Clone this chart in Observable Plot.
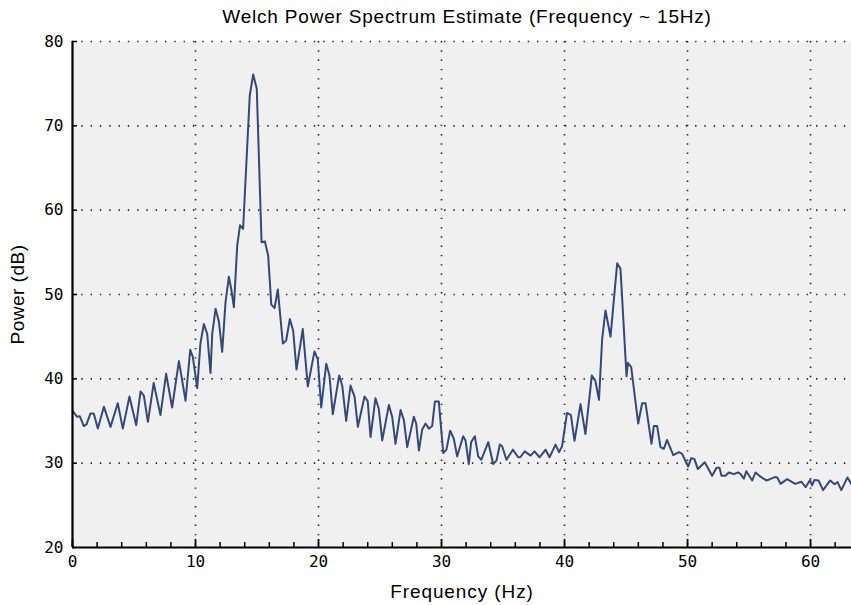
<!DOCTYPE html>
<html><head><meta charset="utf-8">
<script src="https://cdn.jsdelivr.net/npm/d3@7"></script>
<script src="https://cdn.jsdelivr.net/npm/@observablehq/plot@0.6"></script>
<style>
body{margin:0;background:#fff;width:851px;height:605px;overflow:hidden;}
#title{height:32px;width:851px;position:relative;font-family:"Liberation Sans",Arial,sans-serif;font-size:19px;color:#000;}
#title span{position:absolute;left:467px;top:6px;transform:translateX(-50%);white-space:nowrap;letter-spacing:0.8px;}
svg g[aria-label="x-axis label"] text{font-family:"Liberation Sans",Arial,sans-serif;font-size:19px;letter-spacing:0.9px;}
svg g[aria-label="y-axis label"] text{font-family:"Liberation Sans",Arial,sans-serif;font-size:19px;letter-spacing:0.5px;}
</style></head><body>
<div id="title"><span>Welch Power Spectrum Estimate (Frequency ~ 15Hz)</span></div>
<div id="chart"></div>
<script>
const freq = [0.0,0.16,0.38,0.6,0.92,1.14,1.46,1.73,2.06,2.55,3.09,3.68,4.09,4.63,5.18,5.53,5.8,6.13,6.6,7.15,7.61,8.1,8.65,9.19,9.57,9.78,10.14,10.4,10.68,10.95,11.22,11.36,11.63,11.9,12.17,12.44,12.71,12.9,13.12,13.39,13.62,13.87,14.41,14.69,14.98,15.37,15.64,15.91,16.16,16.43,16.69,17.1,17.37,17.67,17.94,18.21,18.72,19.13,19.67,19.94,20.22,20.63,20.89,21.16,21.68,21.93,22.25,22.6,22.93,23.2,23.74,24.0,24.23,24.63,24.9,25.18,25.72,25.99,26.26,26.67,26.94,27.21,27.75,27.94,28.16,28.43,28.7,28.97,29.24,29.46,29.78,30.14,30.4,30.7,31.0,31.27,31.76,31.95,32.22,32.41,32.71,32.98,33.23,33.8,34.2,34.47,34.74,34.93,35.28,35.8,36.23,36.4,36.77,37.24,37.56,37.97,38.46,38.78,39.27,39.55,39.8,40.2,40.52,40.81,41.3,41.7,42.22,42.5,42.8,43.06,43.33,43.74,44.28,44.55,45.04,45.15,45.42,45.99,46.31,46.59,47.07,47.26,47.53,47.8,48.07,48.33,48.84,49.3,49.56,50.05,50.3,50.55,50.84,51.4,52.0,52.36,52.6,52.76,53.08,53.36,53.77,54.1,54.32,54.58,54.78,55.26,55.53,55.94,56.4,56.7,57.1,57.3,57.56,58.1,58.75,59.25,59.6,59.96,60.13,60.3,60.65,61.02,61.6,61.95,62.2,62.5,63.0,63.33];
const power = [36.25,35.9,35.5,35.55,34.4,34.6,35.9,35.9,34.1,36.7,34.3,37.1,34.1,37.9,34.5,38.5,38.0,34.9,39.5,35.7,40.6,36.6,42.1,37.4,43.45,42.6,38.9,44.2,46.5,45.35,40.7,45.35,48.3,46.8,43.2,49.1,52.1,50.7,48.5,55.8,58.2,57.8,73.6,76.1,74.4,56.2,56.3,54.6,48.8,48.4,50.6,44.2,44.55,47.1,45.7,41.1,45.9,39.1,43.25,42.3,36.6,41.8,40.4,35.8,40.4,39.2,35.0,39.2,37.9,34.3,37.9,37.35,33.1,37.7,36.45,32.7,36.9,35.5,32.3,36.3,35.1,31.9,35.5,34.7,31.5,34.0,34.7,34.1,34.4,37.3,37.3,31.2,31.6,33.85,32.9,30.8,33.2,32.7,29.9,32.5,33.2,30.8,30.4,32.5,29.9,30.3,32.2,32.0,30.4,31.6,30.7,30.7,31.4,30.9,31.4,30.7,31.6,30.7,32.2,31.3,32.0,35.95,35.7,32.65,37.0,33.45,40.4,39.8,37.5,44.75,48.1,45.0,53.7,53.05,40.3,41.9,41.4,34.7,37.1,37.1,32.3,34.4,34.4,31.9,31.7,32.75,30.95,31.3,31.1,29.6,30.6,30.5,29.3,30.1,28.5,29.45,29.45,28.5,28.5,28.9,28.7,28.9,28.7,28.15,29.05,27.95,28.9,28.4,27.95,28.1,28.35,28.3,27.55,28.1,27.55,27.8,27.15,28.0,27.35,28.0,27.95,26.8,27.95,27.5,27.75,26.8,28.3,27.5];
const xMajorTicks = [0,10,20,30,40,50,60];
const xMinorTicks = [2,4,6,8,12,14,16,18,22,24,26,28,32,34,36,38,42,44,46,48,52,54,56,58,62];
const yTicks = [20,30,40,50,60,70,80];
const xDomain = [0, 63.33];
const yDomain = [20, 80];
const xLabel = "Frequency (Hz)";
const yLabel = "Power (dB)";

const data = freq.map((f, i) => ({f, p: power[i]}));
const W = 851, H = 573, mT = 9, mL = 72, mR = 0, mB = 58;
const innerW = W - mL - mR, innerH = H - mT - mB;
const dotted = {stroke: "#000", strokeOpacity: 0.85, strokeWidth: 1.6, strokeDasharray: "1.4,7.9"};

const chart = Plot.plot({
  width: W, height: H, marginTop: mT, marginLeft: mL, marginRight: mR, marginBottom: mB,
  x: {domain: xDomain},
  y: {domain: yDomain},
  style: {background: "white", fontFamily: "'DejaVu Sans Mono', monospace", fontSize: "16px", color: "#000", overflow: "visible"},
  marks: [
    Plot.frame({fill: "#f0f0f0", stroke: "none"}),
    Plot.gridX(xMajorTicks.filter(d => d > xDomain[0]), dotted),
    Plot.gridY(yTicks.filter(d => d > yDomain[0]), dotted),
    Plot.line(data, {x: "f", y: "p", stroke: "#34497b", strokeWidth: 2}),
    Plot.tickX(xMinorTicks, {x: d => d, insetTop: innerH - 5, stroke: "#000", strokeWidth: 1.5}),
    Plot.tickX(xMajorTicks, {x: d => d, insetTop: innerH - 8, stroke: "#000", strokeWidth: 1.8}),
    Plot.tickY(yTicks, {y: d => d, insetRight: innerW - 5, stroke: "#000", strokeWidth: 1.5}),
    Plot.ruleX([xDomain[0]], {stroke: "#000", strokeWidth: 2.2}),
    Plot.ruleY([yDomain[0]], {stroke: "#000", strokeWidth: 2.2}),
    Plot.axisX(xMajorTicks, {tickSize: 0, tickPadding: 8, tickFormat: d => String(d), label: xLabel, labelAnchor: "center", labelArrow: "none", labelOffset: 50}),
    Plot.axisY(yTicks, {tickSize: 0, tickPadding: 9, tickFormat: d => String(d), label: yLabel, labelAnchor: "center", labelArrow: "none", labelOffset: 62})
  ]
});
document.getElementById("chart").appendChild(chart);
</script>
</body></html>
